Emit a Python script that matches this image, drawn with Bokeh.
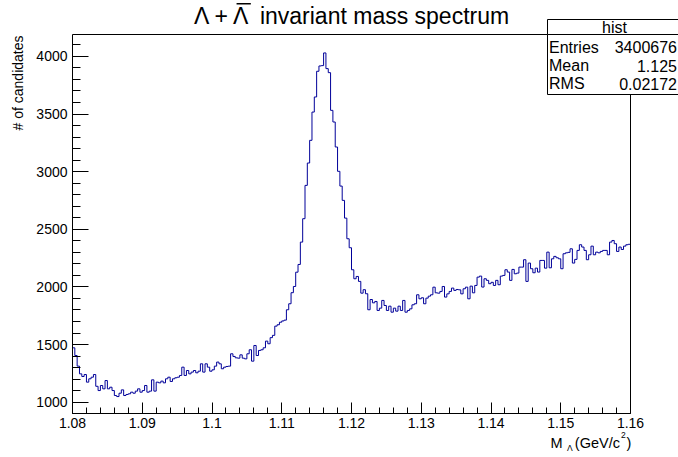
import numpy as np
from bokeh.plotting import figure
from bokeh.models import Range1d, FixedTicker, Label, BoxAnnotation, LinearAxis
from bokeh.embed import file_html
from bokeh.resources import INLINE

# ---------------- data ----------------
x_min, x_max = 1.08, 1.16
counts = [
    1472, 1405, 1313, 1246, 1223, 1240, 1174, 1203, 1217, 1240,
    1138, 1101, 1145, 1116, 1188, 1116, 1130, 1101, 1058, 1049,
    1078, 1107, 1058, 1067, 1073, 1087, 1078, 1096, 1116, 1087,
    1101, 1145, 1087, 1096, 1194, 1096, 1174, 1168, 1183, 1168,
    1203, 1217, 1180, 1203, 1212, 1217, 1232, 1304, 1232, 1275,
    1246, 1261, 1275, 1255, 1269, 1333, 1261, 1333, 1304, 1269,
    1281, 1313, 1348, 1333, 1290, 1304, 1310, 1313, 1420, 1397,
    1385, 1382, 1411, 1382, 1376, 1420, 1455, 1356, 1492, 1405,
    1449, 1455, 1472, 1530, 1507,
    1560, 1580, 1660, 1672, 1694, 1705, 1712,
    1802, 1854, 1950, 2004, 2128, 2195, 2389, 2592, 2881,
    3075, 3272, 3517, 3648, 3871, 3917, 3920, 4030, 3894, 3859, 3532, 3431, 3214, 3003,
    2875, 2751, 2597, 2418, 2340, 2149, 2071, 2091, 2048, 1946, 1976, 1941, 1802,
    1891, 1862, 1874, 1796, 1816, 1883, 1839, 1796, 1833, 1781,
    1816, 1790, 1833, 1796, 1883, 1781, 1796, 1810, 1845, 1854,
    1932, 1897, 1906, 1854, 1903, 1920, 1932, 1998, 1949, 1946,
    1961, 2004, 1912, 1940, 1961, 1990, 1970, 1978, 1975, 1940,
    1984, 1998, 1897, 2007, 1949, 2013, 2085,
    2094, 1999, 2071, 2057, 2028, 2040, 2013, 2057, 2019, 2094,
    2100, 2149, 2129, 2057, 2152, 2114, 2120, 2172, 2172, 2236,
    2048, 2207, 2158, 2123, 2163, 2129, 2230, 2230, 2163, 2302,
    2166, 2244, 2265, 2253, 2244, 2158, 2288, 2296, 2300, 2331,
    2207, 2239, 2317, 2366, 2346, 2317, 2236, 2279, 2354, 2279,
    2302, 2296, 2308, 2317, 2317, 2279, 2389, 2403, 2375, 2308,
    2346, 2325, 2354, 2366, 2370,
]
x_ticks = [1.08, 1.09, 1.10, 1.11, 1.12, 1.13, 1.14, 1.15, 1.16]
x_tick_labels = ["1.08", "1.09", "1.1", "1.11", "1.12", "1.13", "1.14", "1.15", "1.16"]
y_ticks = [1000, 1500, 2000, 2500, 3000, 3500, 4000]
y_lo, y_hi = 902, 4190

title_text = "\u039b + \u039b\u2002invariant mass spectrum"   # second Lambda carries an overline bar
y_label = "# of candidates"
stats_name = "hist"
stats_keys = ["Entries", "Mean", "RMS"]
stats_vals = ["3400676", "1.125", "0.02172"]

FONT = "Liberation Sans"
LINE = "#000099"

# ---------------- layout (pixels) ----------------
W, H = 678, 457
FL, FR, FT, FB = 72, 630, 34, 413      # ROOT-style frame box inside the canvas

sx = (FR - FL) / (x_max - x_min)
sy = (FB - FT) / (y_hi - y_lo)
x_range = Range1d(x_min - FL / sx, x_max + (W - FR) / sx)
y_range = Range1d(y_lo - (H - FB) / sy, y_hi + FT / sy)

n_bins = len(counts)
edges = np.linspace(x_min, x_max, n_bins + 1)
ys = counts + [counts[-1]]

p = figure(width=W, height=H, output_backend="svg", toolbar_location=None,
           title=None, x_range=x_range, y_range=y_range,
           min_border_left=0, min_border_right=0,
           min_border_top=0, min_border_bottom=0)
p.background_fill_color = "white"
p.border_fill_color = "white"
p.outline_line_color = None
p.grid.visible = False

p.step(edges, ys, mode="after", line_color=LINE, line_width=1)

# axes
x_minor = list(np.round(np.arange(x_min, x_max + 1e-9, 0.002), 4))
y_minor = list(range(900, 4200, 100))
xa = p.xaxis[0]
ya = p.yaxis[0]
xa.ticker = FixedTicker(ticks=x_ticks, minor_ticks=x_minor)
ya.ticker = FixedTicker(ticks=y_ticks, minor_ticks=y_minor)
xa.major_label_overrides = dict(zip(x_ticks, x_tick_labels))
xa.fixed_location = y_lo
ya.fixed_location = x_min
xa.bounds = (x_min, x_max)
ya.bounds = (y_lo, y_hi)

for ax in (xa, ya):
    ax.axis_line_color = "black"
    ax.axis_line_width = 1
    ax.major_tick_line_color = "black"
    ax.minor_tick_line_color = "black"
    ax.major_label_text_color = "black"
    ax.major_label_text_font = FONT
    ax.major_label_text_font_size = "14px"
    ax.major_tick_out = 0
    ax.minor_tick_out = 0
xa.major_tick_in = 11
xa.minor_tick_in = 6
ya.major_tick_in = 16
ya.minor_tick_in = 8
xa.major_label_standoff = 4
ya.major_label_standoff = 5

# top and right frame lines
top_ax = LinearAxis(fixed_location=y_hi, bounds=(x_min, x_max),
                    ticker=FixedTicker(ticks=[]), axis_line_color="black",
                    major_tick_line_color=None, minor_tick_line_color=None)
right_ax = LinearAxis(fixed_location=x_max, bounds=(y_lo, y_hi),
                      ticker=FixedTicker(ticks=[]), axis_line_color="black",
                      major_tick_line_color=None, minor_tick_line_color=None)
p.add_layout(top_ax, "above")
p.add_layout(right_ax, "right")

# screen coords: origin at bottom-left of the canvas-sized frame
def add_text(text, x, y, size, align="left", angle=0.0):
    p.add_layout(Label(x=x, y=H - y, x_units="screen", y_units="screen", text=text,
                       text_font=FONT, text_font_size=size, text_color="black",
                       text_align=align, text_baseline="alphabetic", angle=angle,
                       level="overlay"))

def add_box(left, right, top, bottom, color="white", line="black", level="annotation"):
    p.add_layout(BoxAnnotation(left=left, right=right, top=H - top, bottom=H - bottom,
                               left_units="screen", right_units="screen",
                               top_units="screen", bottom_units="screen",
                               fill_color=color, fill_alpha=1.0,
                               line_color=line, line_width=1, line_alpha=1.0,
                               level=level))

# stats box (drawn first so texts lie above it)
add_box(547, W + 5, 19, 34)
add_box(547, W + 5, 34, 94)

# title (left aligned so the overline sits on the second Lambda)
TX, TS = 193.5, 23
add_text(title_text, TX, 15.5, f"{TS}px")
bar_l = TX + 1.807 * TS + 1.0
add_box(bar_l, bar_l + 0.62 * TS, 2.6, 3.9, color="black", line=None, level="overlay")
# y label
add_text(y_label, 17, 35, "14px", align="right", angle=np.pi / 2)
# x label: M_Lambda (GeV/c^2)
add_text("M", 550, 442.5, "14.5px")
add_text("\u039b", 566.5, 447, "8.5px")
add_text("(GeV/c", 574.3, 442.5, "14.5px")
add_text("2", 620.5, 434.7, "8.5px")
add_text(")", 626, 442.5, "14.5px")

# stats texts
add_text(stats_name, 614, 27, "16px", align="center")
for i, (k, v) in enumerate(zip(stats_keys, stats_vals)):
    yb = 46.7 + i * 18.3
    add_text(k, 548.5, yb, "16px")
    add_text(v, 676.5, yb, "16px", align="right")

open("out.html", "w").write(file_html(p, INLINE))
